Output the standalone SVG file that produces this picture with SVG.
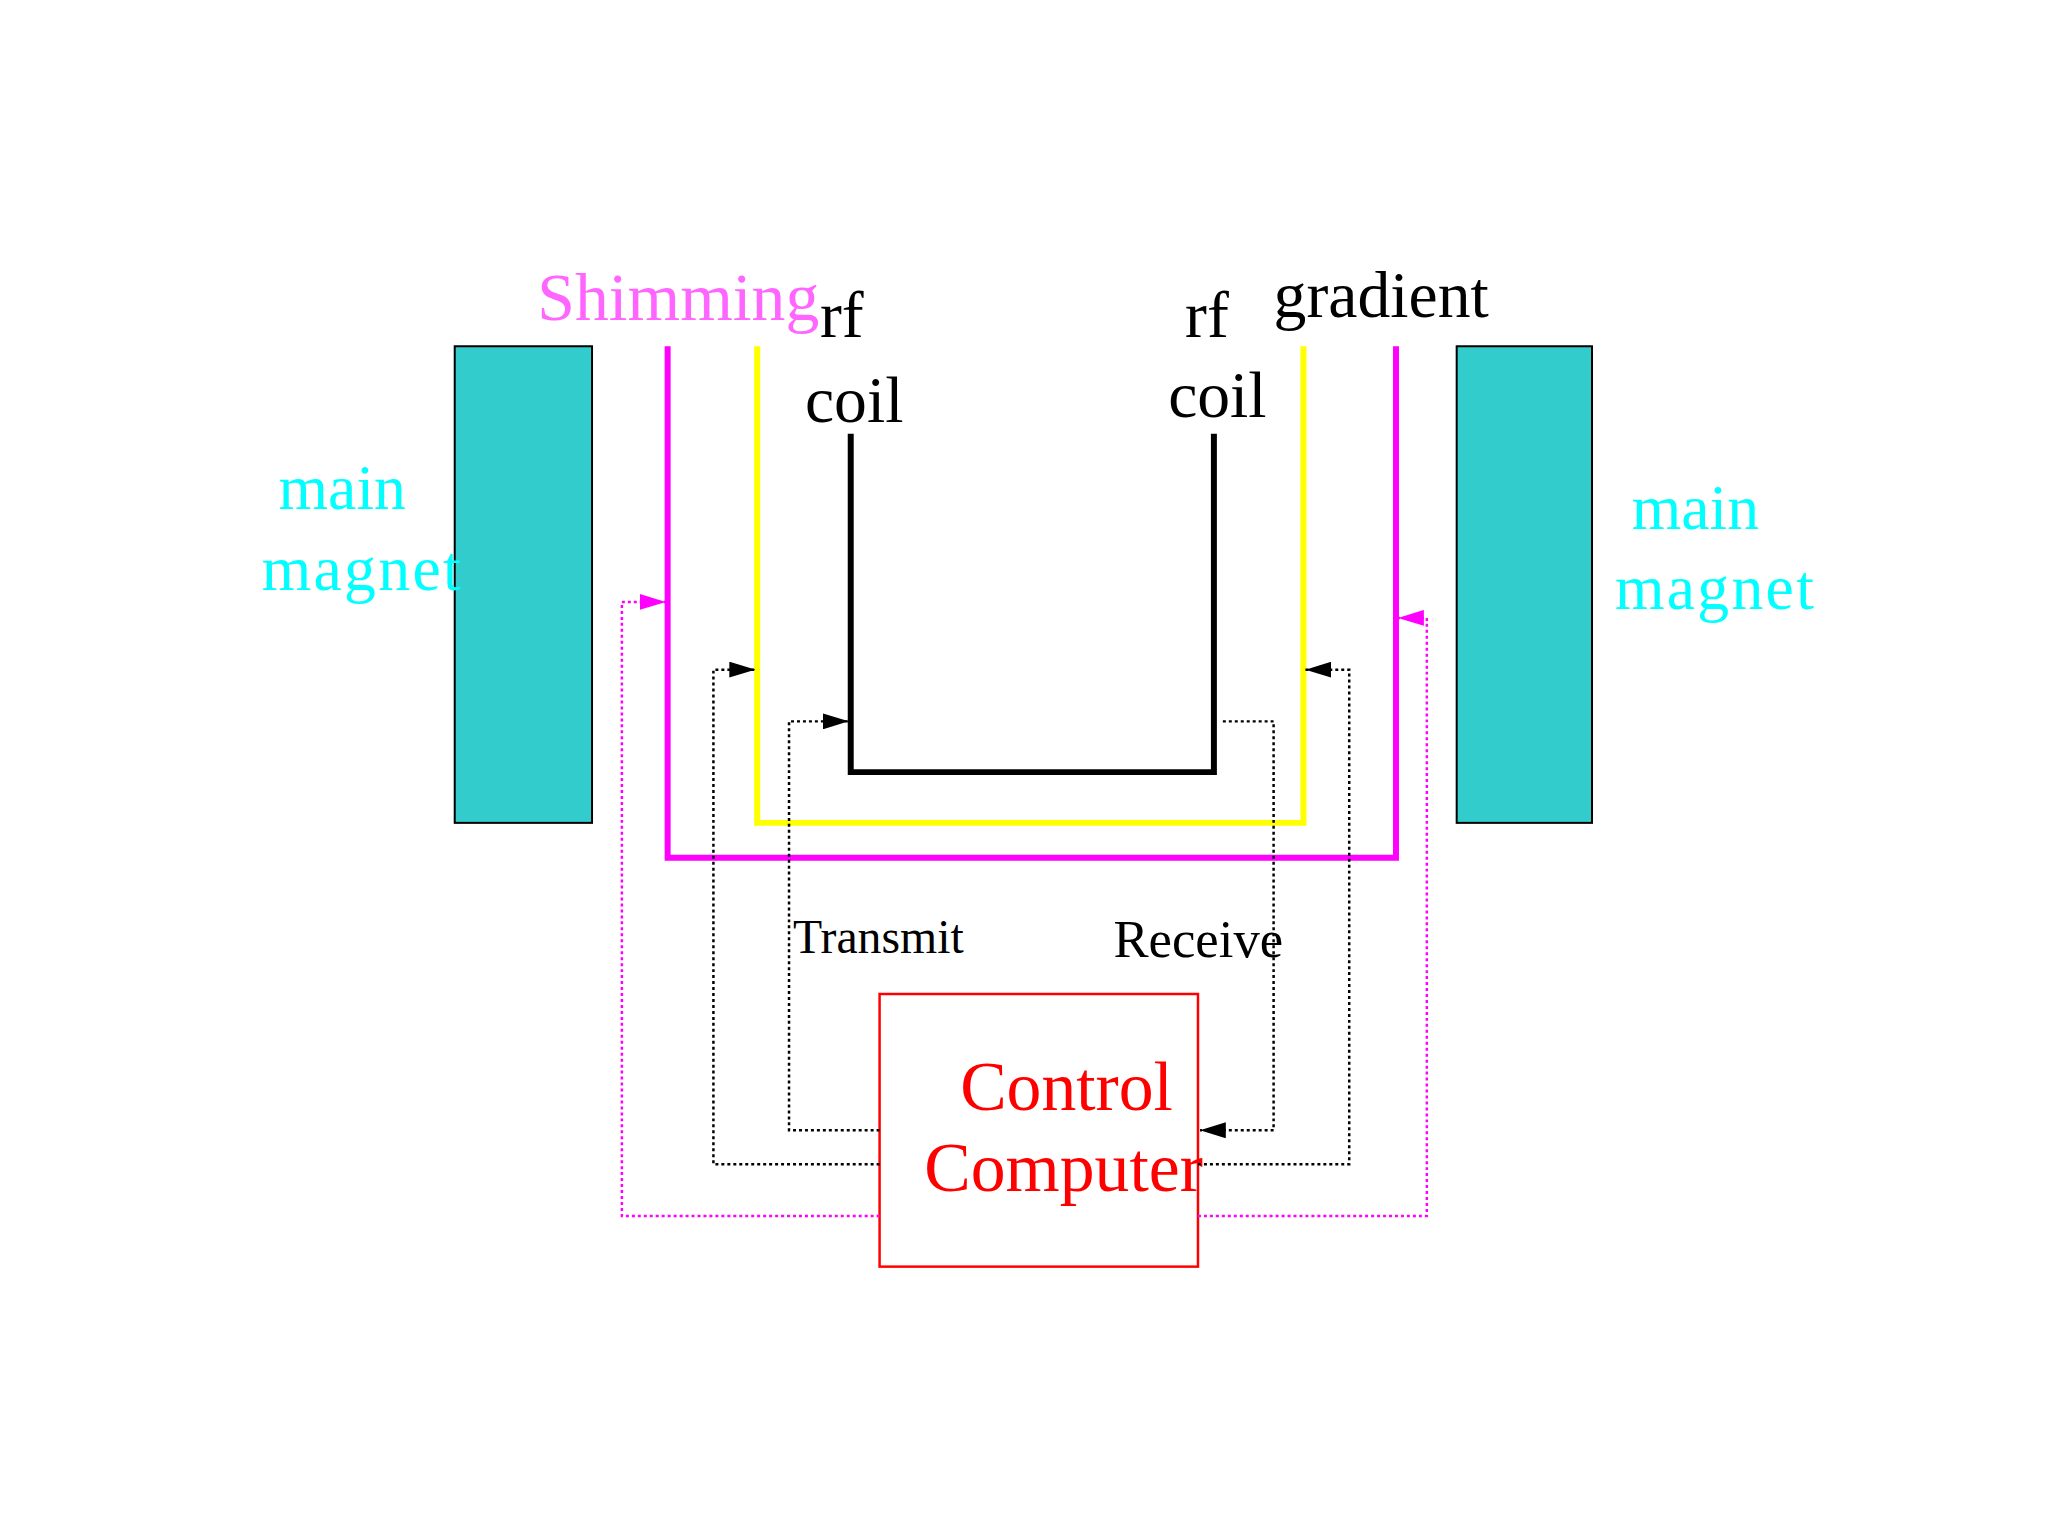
<svg xmlns="http://www.w3.org/2000/svg" width="2048" height="1536" viewBox="0 0 2048 1536">
<defs>
<marker id="ab" viewBox="0 0 10 10" refX="10" refY="5" markerWidth="26" markerHeight="16" markerUnits="userSpaceOnUse" orient="auto" preserveAspectRatio="none"><path d="M0,0L10,5L0,10z" fill="#000"/></marker>
<marker id="am" viewBox="0 0 10 10" refX="10" refY="5" markerWidth="26" markerHeight="16" markerUnits="userSpaceOnUse" orient="auto" preserveAspectRatio="none"><path d="M0,0L10,5L0,10z" fill="#f0f"/></marker>
<style>
text{font-family:"Liberation Serif","Times New Roman",serif}
.cy{fill:#0ff;font-size:64px}
.bk{fill:#000;font-size:66px}
.mag{fill:#33cccc;stroke:#000;stroke-width:2}
.dk{fill:none;stroke:#000;stroke-width:2.5;stroke-dasharray:3 3}
.dm{fill:none;stroke:#f0f;stroke-width:2.5;stroke-dasharray:3 3}
</style>
</defs>
<rect width="2048" height="1536" fill="#fff"/>
<g transform="scale(0.995)">
<g id="leftMagnet"><rect class="mag" x="457" y="348" width="138" height="479"/><text class="cy" x="280" y="512">main</text><text class="cy" x="263" y="593" textLength="200">magnet</text></g>
<g id="rightMagnet"><rect class="mag" x="1464" y="348" width="136" height="479"/><text class="cy" x="1640" y="532">main</text><text class="cy" x="1623" y="612" textLength="200">magnet</text></g>
<g id="shimming"><path d="M671,348V862H1403V348" fill="none" stroke="#f0f" stroke-width="6"/><text x="540" y="322" font-size="68" fill="#f6f">Shimming</text></g>
<g id="gradient"><path d="M761,348V827H1310V348" fill="none" stroke="#ff0" stroke-width="6"/><text class="bk" x="1280" y="319">gradient</text></g>
<g id="rfcoil"><path d="M855,436V776H1220V436" fill="none" stroke="#000" stroke-width="6"/>
<text class="bk" x="824" y="339">rf</text><text class="bk" x="809" y="424">coil</text>
<text class="bk" x="1191" y="339">rf</text><text class="bk" x="1174" y="419">coil</text></g>
<g id="control"><rect x="884" y="999" width="320" height="274" fill="none" stroke="#f00" stroke-width="2.5"/>
<text x="965" y="1116" font-size="70" fill="#f00">Control</text><text x="929" y="1197" font-size="70" fill="#f00">Computer</text></g>
<g id="connectors">
<path class="dm" d="M884,1222H625V605H669" marker-end="url(#am)"/>
<path class="dm" d="M1204,1222H1434V621H1405" marker-end="url(#am)"/>
<path class="dk" d="M884,1170H717V673H759" marker-end="url(#ab)"/>
<path class="dk" d="M1204,1170H1356V673H1312" marker-end="url(#ab)"/>
<path class="dk" d="M884,1136H793V725H853" marker-end="url(#ab)"/>
<path class="dk" d="M1229,725H1280V1136H1206" marker-end="url(#ab)"/>
<text x="797" y="958" font-size="48">Transmit</text>
<text x="1119" y="962" font-size="53">Receive</text>
</g>
</g>
</svg>
